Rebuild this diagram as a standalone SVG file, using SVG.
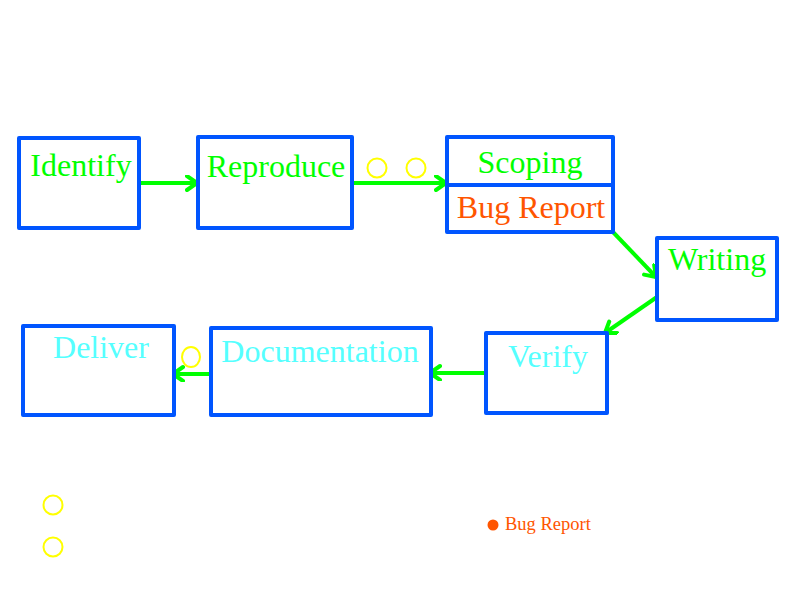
<svg xmlns="http://www.w3.org/2000/svg" width="800" height="600" viewBox="0 0 800 600">
<defs>
<style>
.box{fill:#fff;stroke:#0055FF;stroke-width:4;stroke-linejoin:round}
.t{font-family:"Liberation Serif",serif;font-size:32px;text-anchor:middle}
.g{fill:#00FF00}
.c{fill:#55FFFF}
.o{fill:#FF5500}
.edge{stroke:#00FF00;stroke-width:4;fill:none;marker-end:url(#ah)}
.ring{fill:none;stroke:#FFFF00;stroke-width:2}
</style>
<marker id="ah" markerUnits="userSpaceOnUse" markerWidth="20" markerHeight="20" refX="12" refY="8" orient="auto">
<path d="M2,1 L12,8 L2,15" fill="none" stroke="#00FF00" stroke-width="4" stroke-linecap="round" stroke-linejoin="round"/>
</marker>
</defs>
<rect width="800" height="600" fill="#fff"/>
<g id="connectors">
<line class="edge" x1="139" y1="183" x2="197" y2="183"/>
<line class="edge" x1="352" y1="183" x2="446" y2="183"/>
<line class="edge" x1="612" y1="231" x2="656" y2="277"/>
<line class="edge" x1="657" y1="297" x2="605" y2="333"/>
<line class="edge" x1="486" y1="373" x2="430" y2="373"/>
<line class="edge" x1="211" y1="374" x2="173" y2="374"/>
</g>
<g id="identify">
<rect class="box" x="19" y="138" width="120" height="90"/>
<text class="t g" x="81" y="176">Identify</text>
</g>
<g id="reproduce">
<rect class="box" x="198" y="137" width="154" height="91"/>
<text class="t g" x="276" y="177">Reproduce</text>
</g>
<g id="scoping">
<rect class="box" x="447" y="137" width="166" height="95"/>
<line x1="447" y1="185" x2="613" y2="185" stroke="#0055FF" stroke-width="4"/>
<text class="t g" x="530" y="173">Scoping</text>
<text class="t o" x="531" y="218">Bug Report</text>
</g>
<g id="writing">
<rect class="box" x="657" y="238" width="120" height="82"/>
<text class="t g" x="717" y="270">Writing</text>
</g>
<g id="verify">
<rect class="box" x="486" y="333" width="121" height="80"/>
<text class="t c" x="548" y="367">Verify</text>
</g>
<g id="documentation">
<rect class="box" x="211" y="328" width="220" height="87"/>
<text class="t c" x="320" y="362">Documentation</text>
</g>
<g id="deliver">
<rect class="box" x="23" y="326" width="151" height="89"/>
<text class="t c" x="101" y="358">Deliver</text>
</g>
<g id="markers">
<circle class="ring" cx="377" cy="168" r="9.5"/>
<circle class="ring" cx="416" cy="168" r="9.5"/>
<ellipse class="ring" cx="191" cy="357" rx="9" ry="10"/>
<circle class="ring" cx="53" cy="505" r="9.5"/>
<circle class="ring" cx="53" cy="547" r="9.5"/>
</g>
<g id="legend">
<circle cx="493" cy="525" r="5.5" fill="#FF5500"/>
<text x="505" y="530" font-family="Liberation Serif, serif" font-size="18.5" fill="#FF5500">Bug Report</text>
</g>
</svg>
